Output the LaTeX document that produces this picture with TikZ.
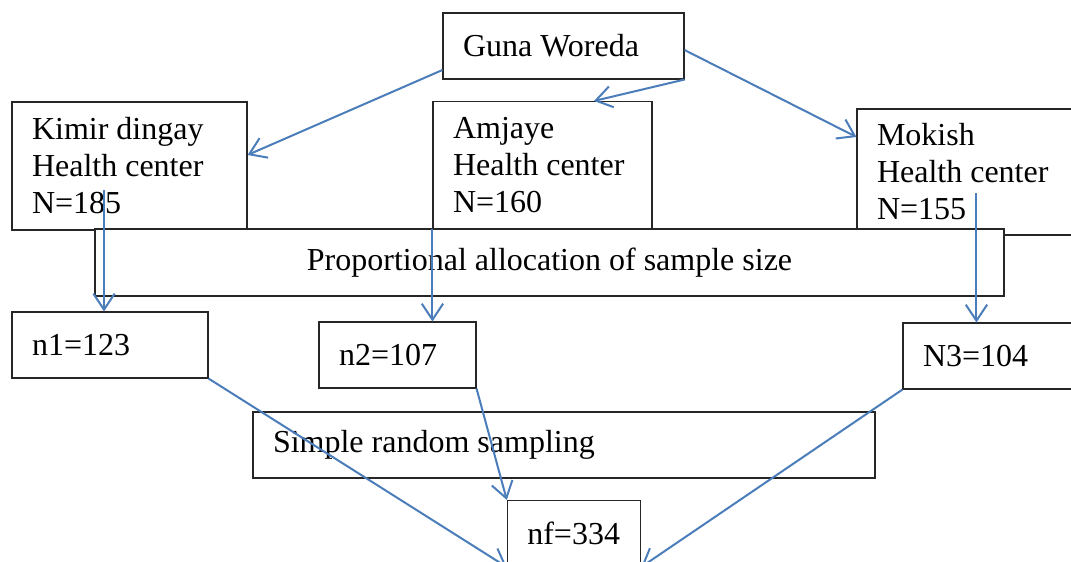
\documentclass[tikz,border=0pt]{standalone}
\usepackage{fontspec}
\setmainfont{Liberation Serif}
\usetikzlibrary{arrows.meta,calc}

\begin{document}
\begin{tikzpicture}[x=0.75pt,y=-0.75pt]

            % FRAME
            \clip (0,0) rectangle (1071,561);

            % EDGECOLOR
            \definecolor{edgecolor_flow}{rgb}{ 0.29 0.49 0.73 }
            \tikzstyle{edgestyle_flow} = [line width=1.5pt,color=edgecolor_flow,-{Straight Barb[length=12pt,width=16pt,line width=1.5pt]}]

            % DEF BOXSTYLES
            \tikzstyle{boxstyle} = [draw=black!85, line width=0.8pt, fill=white, align=left, inner xsep=15pt, inner ysep=0pt, font=\fontsize{24}{27.75}\selectfont, execute at begin node={\spaceskip=0.25em\relax}]

            % BOXES
            \node[boxstyle, text width=150.75pt, minimum height=49.5pt] (box_guna) at (563.5,46) {Guna Woreda};
            \node[boxstyle, text width=146.25pt, minimum height=96pt] (box_kimir) at (129.5,166) {Kimir dingay\\Health center\\N=185};
            \node[boxstyle, text width=134.25pt, minimum height=95.25pt] (box_amjaye) at (542.5,165) {Amjaye\\Health center\\N=160};
            \node[boxstyle, text width=146.25pt, minimum height=94.5pt] (box_mokish) at (974.5,172) {Mokish\\Health center\\N=155};
            \node[boxstyle, text width=651.75pt, minimum height=50.25pt, align=center] (box_prop) at (549.5,262.5) {Proportional allocation of sample size};
            \node[boxstyle, text width=117pt, minimum height=49.5pt] (box_n1) at (110,345) {n1=123};
            \node[boxstyle, text width=87.75pt, minimum height=49.5pt] (box_n2) at (397.5,355) {n2=107};
            \node[boxstyle, text width=117pt, minimum height=49.5pt] (box_n3) at (1001,356) {N3=104};
            \node[boxstyle, text width=436.5pt, minimum height=49.5pt] (box_srs) at (564,445) {Simple random sampling};
            \node[boxstyle, text width=70pt, minimum height=49.5pt] (box_nf) at (574,533.5) {nf=334};

            % EDGES
            \draw[edgestyle_flow] (box_guna.west |- 0,70) -- (box_kimir.east |- 0,155);
            \draw[edgestyle_flow] (box_guna.south east) -- (box_amjaye.north -| 594,0);
            \draw[edgestyle_flow] (box_guna.east |- 0,50) -- (box_mokish.west |- 0,137);

            \draw[edgestyle_flow] ($(box_kimir.center)+(-25.5,24)$) coordinate (kimir_out) -- (kimir_out |- box_n1.north);
            \draw[edgestyle_flow] (box_amjaye.south west) -- (box_amjaye.south west |- box_n2.north);
            \draw[edgestyle_flow] ($(box_mokish.west)+(120,21)$) coordinate (mokish_out) -- (mokish_out |- box_n3.north);

            \foreach \i/\k in {n1.south east/nf.south west,n2.south east/nf.north west,n3.south west/nf.south east} {
              \draw[edgestyle_flow] (box_\i) -- (box_\k);
            }

\end{tikzpicture}
\end{document}
